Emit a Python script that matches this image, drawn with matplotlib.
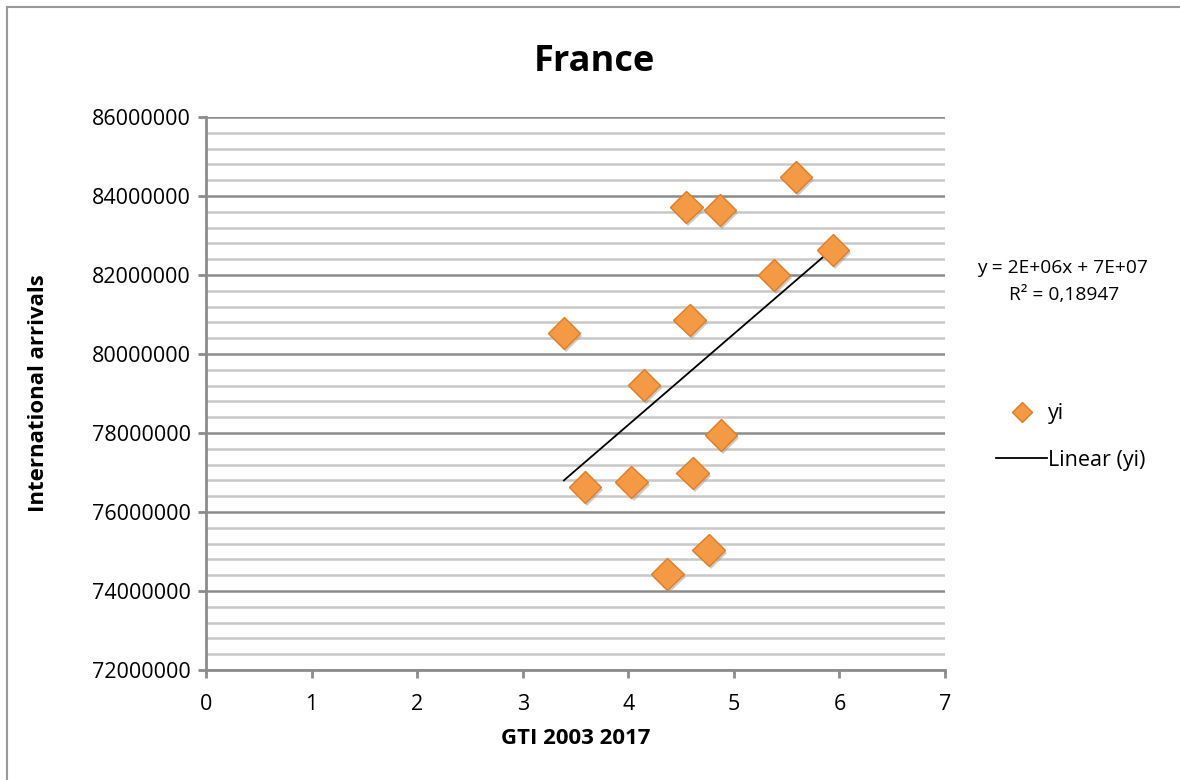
import matplotlib.pyplot as plt
import matplotlib.patheffects as pe
import numpy as np
from matplotlib.lines import Line2D
from matplotlib.ticker import MultipleLocator

# GTI score per year and international arrivals (France)
gti = [3.39, 3.59, 4.03, 4.15, 4.37, 4.55, 4.58, 4.61, 4.76, 4.87, 4.88, 5.38, 5.59, 5.94]
arrivals = [80.53e6, 76.63e6, 76.76e6, 79.22e6, 74.43e6, 83.72e6, 80.86e6,
            76.99e6, 75.04e6, 83.65e6, 77.95e6, 82.0e6, 84.48e6, 82.63e6]

x_ticks = [0, 1, 2, 3, 4, 5, 6, 7]
y_ticks = [72000000, 74000000, 76000000, 78000000, 80000000, 82000000, 84000000, 86000000]

plt.rcParams['font.family'] = ['Open Sans', 'DejaVu Sans']

fig = plt.figure(figsize=(11.8, 7.8), dpi=100)
ax = fig.add_axes([206 / 1180, 1 - 670 / 780, (945 - 206) / 1180, (670 - 117) / 780])

# gridlines
ax.yaxis.set_minor_locator(MultipleLocator(400000))
ax.grid(which='minor', axis='y', color='#c8c8c8', linewidth=1.8, zorder=0)
ax.grid(which='major', axis='y', color='#8c8c8c', linewidth=1.8, zorder=0)
ax.set_axisbelow(True)

# trend line
slope, intercept = np.polyfit(gti, arrivals, 1)
xs = np.array([min(gti), max(gti)])
ax.plot(xs, slope * xs + intercept, color='black', linewidth=1.3, zorder=2)

ax.plot(gti, arrivals, linestyle='none', marker='D', markersize=16.5,
        markerfacecolor='#f59a44', markeredgecolor='#e07d25', markeredgewidth=1,
        zorder=3,
        path_effects=[pe.SimplePatchShadow(offset=(1.5, -2), shadow_rgbFace='#999999', alpha=0.5),
                      pe.Normal()])

ax.set_xlim(0, 7)
ax.set_ylim(72000000, 86000000)
ax.set_xticks(x_ticks)
ax.set_yticks(y_ticks)
ax.set_yticklabels([str(v) for v in y_ticks])
ax.tick_params(axis='both', which='major', labelsize=15.5, color='#8c8c8c', width=2, length=6, direction='out')
ax.tick_params(axis='y', which='minor', length=0)
ax.tick_params(axis='x', pad=11)
ax.tick_params(axis='y', pad=5)

for side in ['top', 'right']:
    ax.spines[side].set_visible(False)
for side in ['left', 'bottom']:
    ax.spines[side].set_color('#8c8c8c')
    ax.spines[side].set_linewidth(2)

ax.set_xlabel('GTI 2003 2017', fontsize=16, fontweight='bold', labelpad=10)
ax.set_ylabel('International arrivals', fontsize=16, fontweight='bold', labelpad=31)
fig.text(0.504, 0.921, 'France', fontsize=26, fontweight='bold', ha='center', va='center')

# equation
fig.text(1062 / 1180, 1 - 268 / 780, 'y = 2E+06x + 7E+07', fontsize=13.8, ha='center', va='center')
fig.text(1064 / 1180, 1 - 295 / 780, 'R² = 0,18947', fontsize=13.8, ha='center', va='center')

# legend
handles = [Line2D([], [], linestyle='none', marker='D', markersize=10,
                  markerfacecolor='#f59a44', markeredgecolor='#e07d25'),
           Line2D([], [], color='black', linewidth=1.3)]
fig.legend(handles, ['yi', 'Linear (yi)'], loc='center left',
           bbox_to_anchor=(977 / 1180, 1 - 437 / 780), frameon=False,
           fontsize=15.5, handlelength=2.35, handletextpad=0.05, labelspacing=1.2)

# outer chart border (left and top only visible)
fig.add_artist(Line2D([7 / 1180, 7 / 1180], [0, 1 - 7 / 780], color='#999999', linewidth=1.5))
fig.add_artist(Line2D([7 / 1180, 1], [1 - 7 / 780, 1 - 7 / 780], color='#999999', linewidth=1.5))

fig.savefig('out.png', dpi=100)
